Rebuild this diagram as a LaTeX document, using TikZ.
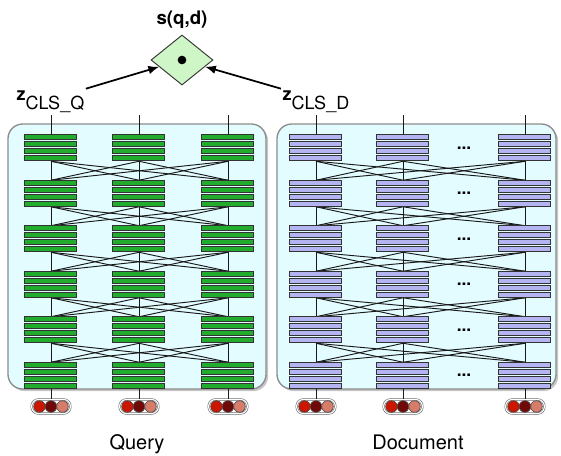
\documentclass[tikz,border=0pt]{standalone}
\usepackage{fontspec}
\setmainfont{TeX Gyre Heros}
\usepackage{tikz}
\usetikzlibrary{calc, positioning, arrows.meta, shapes.geometric, shadows}
\definecolor{qryBar}{RGB}{34, 172, 46}
\definecolor{docBar}{RGB}{180, 180, 242}
\definecolor{panelBg}{RGB}{226, 252, 255}
\definecolor{scoreFill}{RGB}{206, 246, 198}
\definecolor{tokA}{RGB}{204, 22, 0}
\definecolor{tokB}{RGB}{112, 10, 8}
\definecolor{tokC}{RGB}{216, 124, 106}

\begin{document}
\begin{tikzpicture}[x=0.75pt, y=-0.75pt, font=\fontsize{13.5}{15}\selectfont,
  block/.style={minimum width=39pt, minimum height=19.5pt, inner sep=0pt},
  qbar/.style={draw=black!80, fill=qryBar, line width=0.8pt},
  dbar/.style={draw=black!80, fill=docBar, line width=0.8pt},
  link/.style={black!90, line width=0.7pt},
  panel/.style={draw=black!45, fill=panelBg, line width=1pt, rounded corners=11pt,
    drop shadow={shadow xshift=1.6pt, shadow yshift=-1.6pt, opacity=0.45}},
  pill/.style={draw=black!65, double=white, double distance=0.9pt, fill=white,
    rounded corners=5pt, minimum width=29pt, minimum height=10.5pt, inner sep=0pt},
  tok/.style={draw=black!70, line width=0.5pt},
  arr/.style={-{Latex[length=8pt, width=6.5pt]}, line width=1.3pt}]
  \useasboundingbox (0,0) rectangle (561,455);

  % panels
  \draw[panel] (8,124) rectangle (266,389);
  \draw[panel] (277,124) rectangle (556,389);

  % query tower: 6 layers x 3 tokens
  \foreach \c/\x in {1/51, 2/139, 3/228}
    \foreach \r in {1,...,6}
      \node[block] (q-\r-\c) at (\x, {148+45.5*(\r-1)}) {};
  % document tower
  \foreach \c/\x in {1/316, 2/403, 3/525}
    \foreach \r in {1,...,6}
      \node[block] (d-\r-\c) at (\x, {148+45.5*(\r-1)}) {};

  % attention links between layers
  \foreach \r [evaluate=\r as \n using int(\r+1)] in {1,...,5}
    \foreach \i in {1,2,3}
      \foreach \j in {1,2,3} {
        \draw[link] (q-\r-\i.south) -- (q-\n-\j.north);
        \draw[link] (d-\r-\i.south) -- (d-\n-\j.north);
      }

  % stacked hidden units
  \foreach \c in {1,2,3}
    \foreach \r in {1,...,6}
      \foreach \b in {0,...,3} {
        \draw[qbar] ($(q-\r-\c.north west)+(0,7*\b)$) rectangle +(52,5);
        \draw[dbar] ($(d-\r-\c.north west)+(0,7*\b)$) rectangle +(52,5);
      }
  \foreach \r in {1,...,6}
    \node[font=\bfseries\fontsize{13}{14}\selectfont] (ddots-\r) at (464, {148+45.5*(\r-1)}) {...};

  % outputs on top
  \foreach \c/\x in {1/51, 2/139, 3/228} {
    \coordinate (qout-\c) at (\x,115);
    \draw[link] (qout-\c) -- (q-1-\c.north);
  }
  \foreach \c/\x in {1/316, 2/403, 3/525} {
    \coordinate (dout-\c) at (\x,115);
    \draw[link] (dout-\c) -- (d-1-\c.north);
  }

  % input tokens
  \foreach \c/\x in {1/51, 2/139, 3/228} {
    \node[pill] (qin-\c) at (\x,406.5) {};
    \draw[link] (q-6-\c.south) -- (qin-\c.north);
    \foreach \o/\col in {-11.5/tokA, 0/tokB, 11.5/tokC}
      \filldraw[tok, fill=\col] ($(qin-\c)+(\o,0)$) circle[radius=5.8];
  }
  \foreach \c/\x in {1/316, 2/403, 3/525} {
    \node[pill] (din-\c) at (\x,406.5) {};
    \draw[link] (d-6-\c.south) -- (din-\c.north);
    \foreach \o/\col in {-11.5/tokA, 0/tokB, 11.5/tokC}
      \filldraw[tok, fill=\col] ($(din-\c)+(\o,0)$) circle[radius=5.8];
  }

  % score
  \node[diamond, draw=black!80, fill=scoreFill, line width=0.7pt, inner sep=0pt,
    minimum width=46.5pt, minimum height=37.5pt] (score) at (182,60) {};
  \node[circle, fill=black, inner sep=0pt, minimum size=6.5pt] (dot) at (score) {};
  \node[anchor=base, font=\bfseries\fontsize{14}{16}\selectfont] (sim) at (182,24) {s(q,d)};

  % CLS embeddings
  \node[anchor=base west, inner sep=1pt] (zq) at (15,100)
    {\textbf{z}\raisebox{-7pt}{CLS\_Q}};
  \node[anchor=base west, inner sep=1pt] (zd) at (281,100)
    {\textbf{z}\raisebox{-7pt}{CLS\_D}};
  \draw[arr] (zq.north east) -- (score);
  \draw[arr] (zd.north west) -- (score);

  % labels
  \node[anchor=base, font=\fontsize{15}{18}\selectfont] (qlabel) at (137,449) {Query};
  \node[anchor=base, font=\fontsize{15}{18}\selectfont] (dlabel) at (418,449) {Document};
\end{tikzpicture}
\end{document}
